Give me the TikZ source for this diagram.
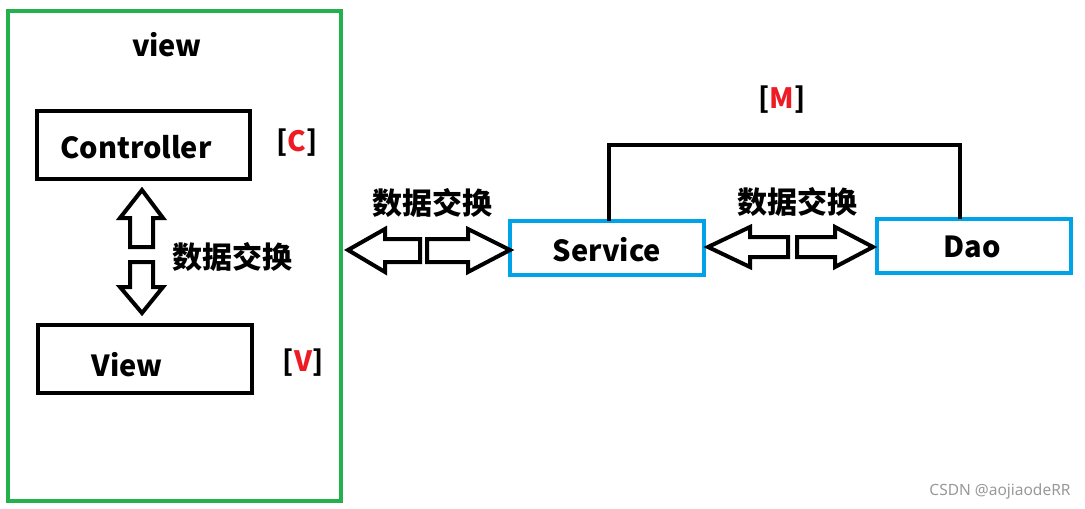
\documentclass[tikz,border=0pt]{standalone}
\usepackage{fontspec}
\setmainfont{Noto Sans CJK SC}
\newfontfamily\wmfont{Noto Sans}
\definecolor{pgreen}{HTML}{22B14C}
\definecolor{pblue}{HTML}{00A2E8}
\definecolor{pred}{HTML}{ED1C24}
\begin{document}
\begin{tikzpicture}[x=1pt,y=-1pt,
  thick line/.style={line width=4pt},
  bbox/.style={draw=black,line width=4pt,inner sep=0pt,outer sep=0pt},
  mbox/.style={draw=pblue,line width=4pt,inner sep=0pt,outer sep=0pt},
  lbl/.style={font=\fontsize{29}{32}\selectfont\bfseries,inner sep=0pt},
  cn/.style={font=\fontsize{30}{33}\selectfont\bfseries,inner sep=0pt},
  tag/.style={font=\fontsize{28}{31}\selectfont\bfseries,inner sep=0pt},
  barrow/.style={draw=black,line width=4pt,line join=miter,fill=white}]
\useasboundingbox (0,0) rectangle (1085,509);
\fill[white] (0,0) rectangle (1085,509);
% outer view frame
\node[draw=pgreen,line width=4pt,minimum width=333pt,minimum height=490pt,inner sep=0pt] (frame) at (174.5,256) {};
\node[lbl] (title) at (167,45) {view};
% Controller / View boxes
\node[bbox,minimum width=213pt,minimum height=68pt] (ctrl) at (143.5,145) {};
\node[lbl] (ctrltxt) at (136,147) {Controller};
\node[bbox,minimum width=214pt,minimum height=68pt] (view) at (145,359) {};
\node[lbl] (viewtxt) at (127,365) {View};
\node[tag] (ctag) at (297,143) {[\textcolor{pred}{C}]};
\node[tag] (vtag) at (303,363) {[\textcolor{pred}{V}]};
% vertical block arrows
\draw[barrow] (142,190) -- (163,218) -- (153,218) -- (153,247) -- (130,247) -- (130,218) -- (120,218) -- cycle;
\draw[barrow] (130,262) -- (153,262) -- (153,287) -- (163,287) -- (142,313) -- (120,287) -- (130,287) -- cycle;
\node[cn] (ex1) at (232,257) {数据交换};
% Service / Dao
\node[mbox,minimum width=194pt,minimum height=54pt] (service) at (607,248) {};
\node[lbl] (servicetxt) at (607,250) {Service};
\node[mbox,minimum width=194pt,minimum height=54pt] (dao) at (974,246) {};
\node[lbl] (daotxt) at (972,247) {Dao};
\draw[thick line] ([xshift=2pt]service.north) |- (960,145) -| ([xshift=-14pt]dao.north);
\node[tag] (mtag) at (782,100) {[\textcolor{pred}{M}]};
% horizontal block arrows (view <-> service)
\draw[barrow] (348,250) -- (385,229) -- (385,239) -- (420,239) -- (420,262) -- (385,262) -- (385,272) -- cycle;
\draw[barrow] (427,239) -- (468,239) -- (468,229) -- (510,250) -- (468,272) -- (468,262) -- (427,262) -- cycle;
\node[cn] (ex2) at (432,203) {数据交换};
% horizontal block arrows (service <-> dao)
\draw[barrow] (708,247) -- (750,227) -- (750,237) -- (788,237) -- (788,257) -- (750,257) -- (750,267) -- cycle;
\draw[barrow] (797,237) -- (835,237) -- (835,227) -- (873,247) -- (835,267) -- (835,257) -- (797,257) -- cycle;
\node[cn] (ex3) at (797,202) {数据交换};
% watermark
\node[font=\wmfont\fontsize{15.5}{18}\selectfont,text=black!40,inner sep=0pt] (wm) at (1000,491) {CSDN @aojiaodeRR};
\end{tikzpicture}
\end{document}
